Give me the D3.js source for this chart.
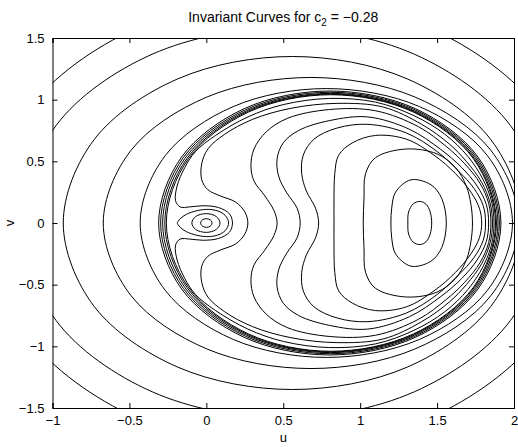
<!DOCTYPE html>
<html>
<head>
<meta charset="utf-8">
<script src="https://cdn.jsdelivr.net/npm/d3@7"></script>
<style>
  body { margin: 0; background: #fff; }
  text { font-family: "Liberation Sans", Arial, Helvetica, sans-serif; fill: #000; }
</style>
</head>
<body>
<svg id="chart"></svg>
<script>
// Axis ticks
const uTicks = [-1, -0.5, 0, 0.5, 1, 1.5, 2];
const vTicks = [-1.5, -1, -0.5, 0, 0.5, 1, 1.5];

// Invariant curves, upper half only (v >= 0), from left crossing over the top to right crossing.
// The picture is symmetric about v = 0, so the lower half is the mirror.
const outerCurves = [
    [[-1.42, 0], [-1.163, 0.91], [-0.46, 1.576], [0.5, 1.82], [1.46, 1.576], [2.163, 0.91], [2.42, 0]],
    [[-1.205, 0], [-0.977, 0.79], [-0.353, 1.368], [0.5, 1.58], [1.353, 1.368], [1.977, 0.79], [2.205, 0]],
    [[-0.93, 0], [-0.73, 0.675], [-0.185, 1.169], [0.56, 1.35], [1.305, 1.169], [1.85, 0.675], [2.05, 0]],
    [[-0.67, 0], [-0.489, 0.59], [0.005, 1.022], [0.68, 1.18], [1.355, 1.022], [1.849, 0.59], [2.03, 0]],
    [[-0.43, 0], [-0.268, 0.545], [0.175, 0.944], [0.78, 1.09], [1.385, 0.944], [1.828, 0.545], [1.99, 0]]
];

// dense band just inside the big separatrix
const separatrixCurves = [
    [[-0.31, 0], [-0.161, 0.535], [0.246, 0.927], [0.8025, 1.07], [1.359, 0.927], [1.766, 0.535], [1.915, 0]],
    [[-0.297, 0], [-0.15, 0.53], [0.254, 0.918], [0.805, 1.06], [1.356, 0.918], [1.758, 0.53], [1.905, 0]],
    [[-0.284, 0], [-0.138, 0.526], [0.261, 0.91], [0.807, 1.051], [1.352, 0.91], [1.75, 0.526], [1.896, 0]],
    [[-0.27, 0], [-0.126, 0.523], [0.269, 0.905], [0.808, 1.045], [1.347, 0.905], [1.742, 0.523], [1.886, 0]],
    [[-0.26, 0], [-0.117, 0.52], [0.275, 0.9], [0.81, 1.04], [1.345, 0.9], [1.737, 0.52], [1.88, 0]]
];

// curves around the right centre, wavy on the left where they pass the origin island
const innerCurves = [
    [[0.17, 0], [0.15, 0.075], [0.08, 0.125], [-0.02, 0.14], [-0.11, 0.13], [-0.17, 0.13], [-0.2, 0.18], [-0.19, 0.3], [-0.14, 0.45], [-0.07, 0.58], [0.06, 0.71], [0.27, 0.86], [0.5, 0.96], [0.8, 1.01], [1.1, 0.98], [1.35, 0.87], [1.55, 0.72], [1.7, 0.54], [1.8, 0.35], [1.855, 0.17], [1.87, 0]],
    [[0.27, 0], [0.25, 0.09], [0.19, 0.17], [0.09, 0.22], [0.01, 0.27], [-0.03, 0.35], [-0.03, 0.48], [0.01, 0.6], [0.12, 0.72], [0.3, 0.84], [0.55, 0.93], [0.85, 0.97], [1.15, 0.94], [1.4, 0.8], [1.58, 0.64], [1.69, 0.5], [1.79, 0.33], [1.845, 0.16], [1.86, 0]],
    [[0.46, 0], [0.44, 0.1], [0.38, 0.22], [0.31, 0.34], [0.29, 0.46], [0.31, 0.6], [0.39, 0.74], [0.53, 0.85], [0.8, 0.92], [1.1, 0.91], [1.38, 0.78], [1.56, 0.62], [1.68, 0.48], [1.78, 0.32], [1.835, 0.16], [1.85, 0]],
    [[0.61, 0], [0.59, 0.12], [0.52, 0.25], [0.47, 0.38], [0.46, 0.52], [0.5, 0.65], [0.6, 0.75], [0.8, 0.83], [1.05, 0.86], [1.32, 0.76], [1.52, 0.6], [1.66, 0.45], [1.76, 0.3], [1.82, 0.15], [1.835, 0]],
    [[0.73, 0], [0.71, 0.12], [0.65, 0.26], [0.62, 0.4], [0.63, 0.55], [0.7, 0.68], [0.85, 0.77], [1.05, 0.8], [1.3, 0.73], [1.5, 0.58], [1.64, 0.42], [1.74, 0.28], [1.8, 0.14], [1.815, 0]],
    [[0.83, 0], [0.83, 0.2], [0.835, 0.4], [0.86, 0.55], [0.95, 0.65], [1.1, 0.71], [1.3, 0.68], [1.48, 0.55], [1.62, 0.4], [1.72, 0.25], [1.775, 0.12], [1.79, 0]],
    [[1.02, 0], [1.025, 0.2], [1.035, 0.4], [1.1, 0.53], [1.3, 0.6], [1.5, 0.56], [1.62, 0.45], [1.69, 0.3], [1.72, 0.15], [1.73, 0]],
    [[1.2, 0], [1.205, 0.12], [1.23, 0.25], [1.33, 0.35], [1.46, 0.31], [1.53, 0.2], [1.56, 0]],
    [[1.31, 0], [1.315, 0.09], [1.345, 0.155], [1.39, 0.175], [1.43, 0.15], [1.455, 0.09], [1.465, 0]]
];

// ovals around the origin
const originCurves = [
    [[-0.094, 0], [-0.07, 0.052], [0.0, 0.076], [0.065, 0.052], [0.089, 0]],
    [[-0.037, 0], [-0.025, 0.026], [0.0, 0.035], [0.025, 0.026], [0.037, 0]]
];

// teardrop loop through the saddle (cusp at the left end)
const teardrop = [[-0.19, 0], [-0.17, 0.035], [-0.13, 0.07], [-0.06, 0.1], [0.02, 0.11], [0.09, 0.09], [0.13, 0.05], [0.145, 0]];

const width = 518, height = 447;
const margin = { top: 38, right: 4, bottom: 39, left: 52.5 };

const svg = d3.select("#chart").attr("width", width).attr("height", height);

const x = d3.scaleLinear().domain([-1, 2]).range([margin.left, width - margin.right]);
const y = d3.scaleLinear().domain([-1.5, 1.5]).range([height - margin.bottom, margin.top]);

svg.append("defs").append("clipPath").attr("id", "plotClip")
    .append("rect")
    .attr("x", margin.left).attr("y", margin.top)
    .attr("width", width - margin.left - margin.right)
    .attr("height", height - margin.top - margin.bottom);

// mirror the upper half to close the curve
function closedCurve(upper) {
    const lower = upper.slice(1, -1).reverse().map(([u, v]) => [u, -v]);
    return upper.concat(lower);
}

const line = d3.line()
    .x(d => x(d[0]))
    .y(d => y(d[1]))
    .curve(d3.curveCatmullRomClosed.alpha(0.5));

const openLine = d3.line()
    .x(d => x(d[0]))
    .y(d => y(d[1]))
    .curve(d3.curveCatmullRom.alpha(0.5));

const plot = svg.append("g").attr("clip-path", "url(#plotClip)");

const allCurves = outerCurves.concat(separatrixCurves, innerCurves, originCurves);
plot.selectAll("path.curve").data(allCurves).enter().append("path")
    .attr("class", "curve")
    .attr("d", d => line(closedCurve(d)))
    .attr("fill", "none")
    .attr("stroke", "#000")
    .attr("stroke-width", 1);

// teardrop: start and end at the cusp so the corner stays sharp
const tearPts = teardrop.concat(teardrop.slice(0, -1).reverse().map(([u, v]) => [u, -v]));
plot.append("path")
    .attr("d", openLine(tearPts))
    .attr("fill", "none")
    .attr("stroke", "#000")
    .attr("stroke-width", 1);

// Axes box with inward ticks (MATLAB style)
const tickLen = 5;
const fmt = d => d3.format("")(d).replace("-", "\u2212");

svg.append("g").attr("transform", `translate(0,${height - margin.bottom})`)
    .call(d3.axisBottom(x).tickValues(uTicks).tickSize(-tickLen).tickPadding(tickLen + 3).tickFormat(fmt));
svg.append("g").attr("transform", `translate(0,${margin.top})`)
    .call(d3.axisTop(x).tickValues(uTicks).tickSize(-tickLen).tickFormat(""));
svg.append("g").attr("transform", `translate(${margin.left},0)`)
    .call(d3.axisLeft(y).tickValues(vTicks).tickSize(-tickLen).tickPadding(tickLen + 3).tickFormat(fmt));
svg.append("g").attr("transform", `translate(${width - margin.right},0)`)
    .call(d3.axisRight(y).tickValues(vTicks).tickSize(-tickLen).tickFormat(""));

svg.selectAll(".domain").attr("stroke", "#000").attr("stroke-width", 1);
svg.selectAll(".tick line").attr("stroke", "#000");
svg.selectAll(".tick text").attr("font-size", 13).attr("font-family", "Liberation Sans, Arial, sans-serif").attr("fill", "#000");

// Title
const title = svg.append("text")
    .attr("x", (margin.left + width - margin.right) / 2)
    .attr("y", 22)
    .attr("text-anchor", "middle")
    .attr("font-size", 14);
title.append("tspan").text("Invariant Curves for c");
title.append("tspan").attr("font-size", 10).attr("dy", 4).text("2");
title.append("tspan").attr("dy", -4).text(" = \u22120.28");

svg.append("text")
    .attr("x", (margin.left + width - margin.right) / 2)
    .attr("y", 442)
    .attr("text-anchor", "middle")
    .attr("font-size", 13)
    .text("u");

svg.append("text")
    .attr("transform", `translate(14,${(margin.top + height - margin.bottom) / 2}) rotate(-90)`)
    .attr("text-anchor", "middle")
    .attr("font-size", 13)
    .text("v");
</script>
</body>
</html>
